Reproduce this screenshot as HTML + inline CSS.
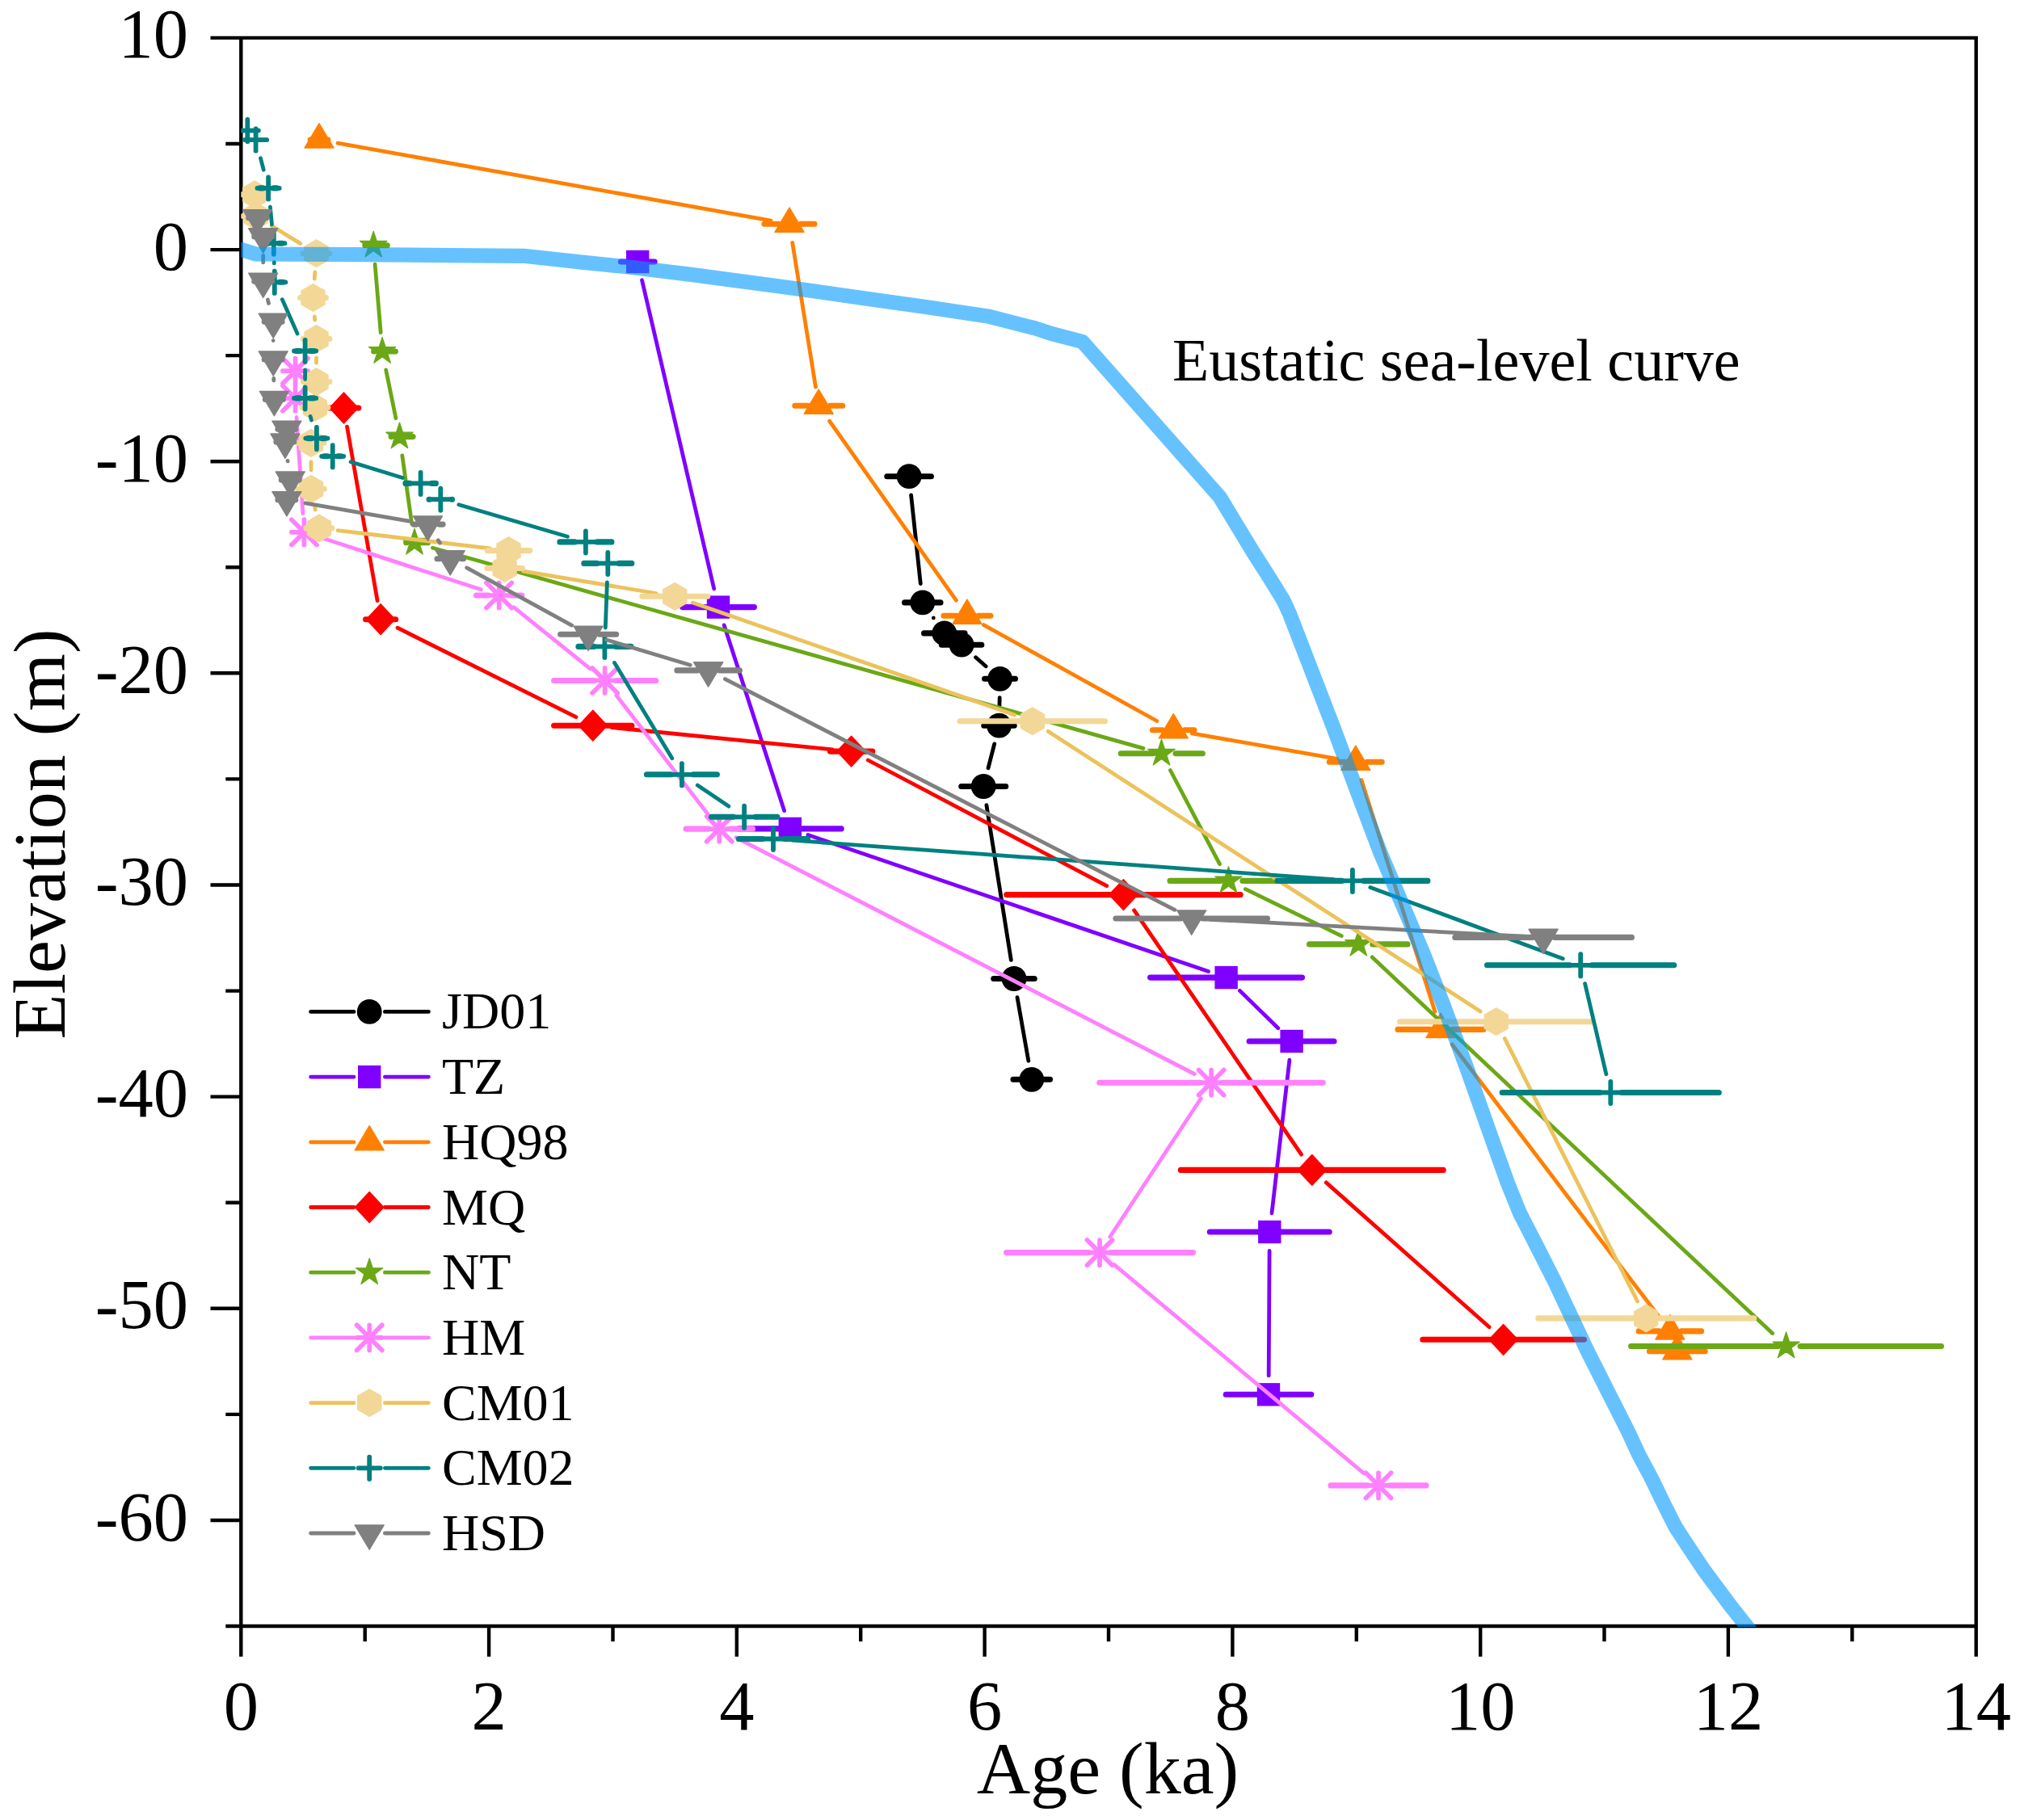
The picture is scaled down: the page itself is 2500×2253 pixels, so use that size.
<!DOCTYPE html>
<html lang="en"><head><meta charset="utf-8"><title>Elevation vs Age</title>
<style>html,body{margin:0;padding:0;background:#fff}svg{display:block}text{font-family:"Liberation Serif","Times New Roman",serif;fill:#000}</style></head><body>
<svg width="2500" height="2253" viewBox="0 0 2500 2253">
<defs><clipPath id="plotclip"><rect x="298.3" y="46.9" width="2148.4" height="1967.1"/></clipPath></defs>
<rect width="2500" height="2253" fill="#fff"/>
<path d="M298.3 46.9H2445.7V2013H298.3ZM298.3 46.9H260.5M298.3 178H279.3M298.3 309.1H260.5M298.3 440.1H279.3M298.3 571.2H260.5M298.3 702.3H279.3M298.3 833.3H260.5M298.3 964.4H279.3M298.3 1095.5H260.5M298.3 1226.6H279.3M298.3 1357.6H260.5M298.3 1488.7H279.3M298.3 1619.8H260.5M298.3 1750.9H279.3M298.3 1882H260.5M298.3 2013H279.3M298.3 2013V2050.8M451.7 2013V2032M605.1 2013V2050.8M758.5 2013V2032M911.8 2013V2050.8M1065.2 2013V2032M1218.6 2013V2050.8M1372 2013V2032M1525.4 2013V2050.8M1678.8 2013V2032M1832.2 2013V2050.8M1985.5 2013V2032M2138.9 2013V2050.8M2292.3 2013V2032M2445.7 2013V2050.8" stroke="#000" stroke-width="4.4" fill="none" stroke-linecap="butt" stroke-linejoin="miter"/>
<g font-size="86.5" text-anchor="end">
<text x="233" y="71.4">10</text>
<text x="233" y="333.6">0</text>
<text x="233" y="595.7">-10</text>
<text x="233" y="857.8">-20</text>
<text x="233" y="1120">-30</text>
<text x="233" y="1382.1">-40</text>
<text x="233" y="1644.3">-50</text>
<text x="233" y="1906.5">-60</text>
</g>
<g font-size="86.5" text-anchor="middle">
<text x="298.3" y="2141">0</text>
<text x="605.1" y="2141">2</text>
<text x="911.8" y="2141">4</text>
<text x="1218.6" y="2141">6</text>
<text x="1525.4" y="2141">8</text>
<text x="1832.2" y="2141">10</text>
<text x="2138.9" y="2141">12</text>
<text x="2445.7" y="2141">14</text>
</g>
<text font-size="92" text-anchor="middle" x="1371" y="2219.5">Age (ka)</text>
<text font-size="92" text-anchor="middle" transform="translate(79.5 1032.5) rotate(-90)">Elevation (m)</text>
<!-- JD01 -->
<g clip-path="url(#plotclip)">
<path d="M1127.6 613L1139.3 722.6M1155.3 764.9l0.01 0M1207.6 813.7L1220.1 824.8M1237.2 863.7L1236.9 874.8M1230.7 920.9L1223 950.8M1220.9 996.6L1251.3 1188.4M1259 1234.6L1272.8 1313.2" stroke="#000000" stroke-width="4.8" stroke-linecap="round" fill="none"/>
<path d="M1097.8 589.7H1111.6M1139.1 589.7H1152.4M1119.6 745.9H1128.3M1155.8 745.9H1164M1143.6 783.9H1155.3M1182.8 783.9H1194M1165.4 798.2H1176.6M1204.1 798.2H1214.8M1218.6 840.3H1224.1M1251.6 840.3H1256.5M1217.8 898.2H1223M1250.5 898.2H1255.2M1189.8 973.5H1203.7M1231.2 973.5H1244.7M1229.8 1211.5H1241.5M1269 1211.5H1280.2M1254 1336.3H1263.3M1290.8 1336.3H1299.5" stroke="#000000" stroke-width="7.1" stroke-linecap="round" fill="none"/>
<circle cx="1125.1" cy="589.7" r="15.4" fill="#000000"/>
<circle cx="1141.8" cy="745.9" r="15.4" fill="#000000"/>
<circle cx="1168.8" cy="783.9" r="15.4" fill="#000000"/>
<circle cx="1190.1" cy="798.2" r="15.4" fill="#000000"/>
<circle cx="1237.6" cy="840.3" r="15.4" fill="#000000"/>
<circle cx="1236.5" cy="898.2" r="15.4" fill="#000000"/>
<circle cx="1217.2" cy="973.5" r="15.4" fill="#000000"/>
<circle cx="1255" cy="1211.5" r="15.4" fill="#000000"/>
<circle cx="1276.8" cy="1336.3" r="15.4" fill="#000000"/>
</g>
<!-- TZ -->
<g clip-path="url(#plotclip)">
<path d="M794.5 346.8L883.7 728.8M896.2 773.9L970.6 1003.6M999.9 1033.5L1495.5 1202.5M1534.4 1226.4L1581.8 1272.7M1595.9 1312.2L1574 1501.8M1571.1 1548.4L1570.2 1702.9" stroke="#8000FF" stroke-width="4.8" stroke-linecap="round" fill="none"/>
<path d="M768.4 324H775.7M803.2 324H810.1M844.6 751.6H875.5M903 751.6H933.4M914.3 1025.9H964.3M991.8 1025.9H1041.2M1423.6 1210.1H1504.1M1531.6 1210.1H1611.5M1546.1 1289H1585.1M1612.6 1289H1651M1497.3 1525H1557.8M1585.3 1525H1645.2M1517.2 1726.3H1556.5M1584 1726.3H1622.8" stroke="#8000FF" stroke-width="7.1" stroke-linecap="round" fill="none"/>
<rect x="775" y="309.8" width="28.4" height="28.4" fill="#8000FF"/>
<rect x="874.8" y="737.4" width="28.4" height="28.4" fill="#8000FF"/>
<rect x="963.6" y="1011.7" width="28.4" height="28.4" fill="#8000FF"/>
<rect x="1503.4" y="1195.9" width="28.4" height="28.4" fill="#8000FF"/>
<rect x="1584.4" y="1274.8" width="28.4" height="28.4" fill="#8000FF"/>
<rect x="1557.1" y="1510.8" width="28.4" height="28.4" fill="#8000FF"/>
<rect x="1555.8" y="1712.1" width="28.4" height="28.4" fill="#8000FF"/>
</g>
<!-- HQ98 -->
<g clip-path="url(#plotclip)">
<path d="M418 177.1L954 273.1M980.7 300.3L1009.5 479.1M1026.7 521.3L1183.4 743.2M1217.4 773.6L1431.8 892.5M1475.3 907.8L1654.8 939.3M1684.9 965.6L1775.9 1252.1M1797.2 1293L2052.7 1629.3" stroke="#FF8000" stroke-width="4.8" stroke-linecap="round" fill="none"/>
<path d="M384.1 173H388.5M401.5 173H405.9M946 277.2H963.5M991 277.2H1008M983.8 502.2H999.7M1027.2 502.2H1042.7M1168 762.3H1183.4M1210.9 762.3H1225.9M1426.5 903.8H1438.8M1466.3 903.8H1478M1645.3 943.3H1664.3M1691.8 943.3H1710.2M1730 1274.4H1769.5M1797 1274.4H1836M2028.2 1647.9H2053.4M2080.9 1647.9H2105.6M2041.4 1672.8H2062.3M2089.8 1672.8H2110.2" stroke="#FF8000" stroke-width="7.1" stroke-linecap="round" fill="none"/>
<polygon points="395,152.8 377,183.1 413,183.1" fill="#FF8000" stroke="#FF8000" stroke-width="1.4" stroke-linejoin="round"/>
<polygon points="977,257 959,287.3 995,287.3" fill="#FF8000" stroke="#FF8000" stroke-width="1.4" stroke-linejoin="round"/>
<polygon points="1013.2,482 995.2,512.3 1031.2,512.3" fill="#FF8000" stroke="#FF8000" stroke-width="1.4" stroke-linejoin="round"/>
<polygon points="1196.9,742.1 1178.9,772.4 1214.9,772.4" fill="#FF8000" stroke="#FF8000" stroke-width="1.4" stroke-linejoin="round"/>
<polygon points="1452.3,883.6 1434.3,913.9 1470.3,913.9" fill="#FF8000" stroke="#FF8000" stroke-width="1.4" stroke-linejoin="round"/>
<polygon points="1677.8,923.1 1659.8,953.4 1695.8,953.4" fill="#FF8000" stroke="#FF8000" stroke-width="1.4" stroke-linejoin="round"/>
<polygon points="1783,1254.2 1765,1284.5 1801,1284.5" fill="#FF8000" stroke="#FF8000" stroke-width="1.4" stroke-linejoin="round"/>
<polygon points="2066.9,1627.7 2048.9,1658 2084.9,1658" fill="#FF8000" stroke="#FF8000" stroke-width="1.4" stroke-linejoin="round"/>
<polygon points="2075.8,1652.6 2057.8,1682.9 2093.8,1682.9" fill="#FF8000" stroke="#FF8000" stroke-width="1.4" stroke-linejoin="round"/>
</g>
<!-- MQ -->
<g clip-path="url(#plotclip)">
<path d="M429.5 528.1L467.1 743.6M492 777.2L712.9 887.7M757.1 900.5L1030.3 927.8M1074.3 941L1369.7 1096.7M1403.6 1126.9L1610.6 1429.1M1641.3 1463.9L1843.1 1642.8" stroke="#FF0000" stroke-width="4.8" stroke-linecap="round" fill="none"/>
<path d="M407.2 505H412M439.5 505H443.8M452.6 766.7H457.6M485.1 766.7H489.7M685.6 898.2H720.3M747.8 898.2H781.9M1027.4 930.1H1040.1M1067.6 930.1H1079.8M1245.7 1107.6H1376.9M1404.4 1107.6H1535.2M1461.3 1448.4H1610.3M1637.8 1448.4H1786.2M1760.8 1658.3H1847.1M1874.6 1658.3H1960.4" stroke="#FF0000" stroke-width="7.1" stroke-linecap="round" fill="none"/>
<polygon points="425.5,486.1 443.2,505 425.5,523.9 407.8,505" fill="#FF0000" stroke="#FF0000" stroke-width="1.4" stroke-linejoin="round"/>
<polygon points="471.1,747.8 488.8,766.7 471.1,785.6 453.4,766.7" fill="#FF0000" stroke="#FF0000" stroke-width="1.4" stroke-linejoin="round"/>
<polygon points="733.8,879.3 751.5,898.2 733.8,917.1 716.1,898.2" fill="#FF0000" stroke="#FF0000" stroke-width="1.4" stroke-linejoin="round"/>
<polygon points="1053.6,911.2 1071.3,930.1 1053.6,949 1035.9,930.1" fill="#FF0000" stroke="#FF0000" stroke-width="1.4" stroke-linejoin="round"/>
<polygon points="1390.4,1088.7 1408.1,1107.6 1390.4,1126.5 1372.7,1107.6" fill="#FF0000" stroke="#FF0000" stroke-width="1.4" stroke-linejoin="round"/>
<polygon points="1623.8,1429.5 1641.5,1448.4 1623.8,1467.3 1606.1,1448.4" fill="#FF0000" stroke="#FF0000" stroke-width="1.4" stroke-linejoin="round"/>
<polygon points="1860.6,1639.4 1878.3,1658.3 1860.6,1677.2 1842.9,1658.3" fill="#FF0000" stroke="#FF0000" stroke-width="1.4" stroke-linejoin="round"/>
</g>
<!-- NT -->
<g clip-path="url(#plotclip)">
<path d="M464.1 327.1L471.2 411.7M477.7 457.9L489.9 517.7M497.8 563.8L509.7 648.6M535.5 678.2L1415 926.4M1448.4 953.5L1509.5 1069.7M1541.4 1100.7L1660.3 1158.6M1698.3 1184.9L2193.6 1650.5" stroke="#6AA816" stroke-width="4.8" stroke-linecap="round" fill="none"/>
<path d="M451.8 303.8H452.2M468.7 303.8H479.3M462.7 435H463.1M479.6 435H489.4M484.1 540.6H484.5M501 540.6H511.1M502.6 671.8H503M519.5 671.8H529.5M1387.3 932.8H1427.5M1455 932.8H1488.3M1448 1090.4H1510.4M1537.9 1090.4H1592.9M1620.6 1168.9H1671.3M1698.8 1168.9H1742M2018.6 1666.5H2200.6M2228.1 1666.5H2402.5" stroke="#6AA816" stroke-width="7.1" stroke-linecap="round" fill="none"/>
<polygon points="462.2,286.2 466.2,298.4 478.9,298.4 468.6,305.9 472.5,318 462.2,310.5 451.9,318 455.8,305.9 445.5,298.4 458.2,298.4" fill="#6AA816" stroke="#6AA816" stroke-width="1.2" stroke-linejoin="round"/>
<polygon points="473.1,417.4 477.1,429.6 489.8,429.6 479.5,437.1 483.4,449.2 473.1,441.7 462.8,449.2 466.7,437.1 456.4,429.6 469.1,429.6" fill="#6AA816" stroke="#6AA816" stroke-width="1.2" stroke-linejoin="round"/>
<polygon points="494.5,523 498.5,535.2 511.2,535.2 500.9,542.7 504.8,554.8 494.5,547.3 484.2,554.8 488.1,542.7 477.8,535.2 490.5,535.2" fill="#6AA816" stroke="#6AA816" stroke-width="1.2" stroke-linejoin="round"/>
<polygon points="513,654.2 517,666.4 529.7,666.4 519.4,673.9 523.3,686 513,678.5 502.7,686 506.6,673.9 496.3,666.4 509,666.4" fill="#6AA816" stroke="#6AA816" stroke-width="1.2" stroke-linejoin="round"/>
<polygon points="1437.5,915.2 1441.5,927.4 1454.2,927.4 1443.9,934.9 1447.8,947 1437.5,939.5 1427.2,947 1431.1,934.9 1420.8,927.4 1433.5,927.4" fill="#6AA816" stroke="#6AA816" stroke-width="1.2" stroke-linejoin="round"/>
<polygon points="1520.4,1072.8 1524.4,1085 1537.1,1085 1526.8,1092.5 1530.7,1104.6 1520.4,1097.1 1510.1,1104.6 1514,1092.5 1503.7,1085 1516.4,1085" fill="#6AA816" stroke="#6AA816" stroke-width="1.2" stroke-linejoin="round"/>
<polygon points="1681.3,1151.3 1685.3,1163.5 1698,1163.5 1687.7,1171 1691.6,1183.1 1681.3,1175.6 1671,1183.1 1674.9,1171 1664.6,1163.5 1677.3,1163.5" fill="#6AA816" stroke="#6AA816" stroke-width="1.2" stroke-linejoin="round"/>
<polygon points="2210.6,1648.9 2214.6,1661.1 2227.3,1661.1 2217,1668.6 2220.9,1680.7 2210.6,1673.2 2200.3,1680.7 2204.2,1668.6 2193.9,1661.1 2206.6,1661.1" fill="#6AA816" stroke="#6AA816" stroke-width="1.2" stroke-linejoin="round"/>
</g>
<!-- HM -->
<g clip-path="url(#plotclip)">
<path d="M367 516.4L374.9 635.5M398.7 666L595.3 729.8M635.8 751.7L730.4 827.8M762.9 861L875.9 1007.6M911 1036.8L1478.3 1329.5M1486.3 1359.8L1373.8 1531M1379 1565.6L1688 1823.9" stroke="#FF80FF" stroke-width="4.8" stroke-linecap="round" fill="none"/>
<path d="M589.5 737H604.1M631.6 737H645.8M685.6 842.5H735.1M762.6 842.5H811.6M849 1026.1H876.7M904.2 1026.1H931.5M1360.8 1340.2H1485.6M1513.1 1340.2H1637.3M1245.5 1550.6H1347.5M1375 1550.6H1476.5M1647 1838.9H1692.5M1720 1838.9H1765" stroke="#FF80FF" stroke-width="7.1" stroke-linecap="round" fill="none"/>
<path d="M349.9 459.2H381.1M365.5 443.6V474.8M349.9 443.6L381.1 474.8M349.9 474.8L381.1 443.6" stroke="#FF80FF" stroke-width="5.7" stroke-linecap="round" fill="none"/>
<path d="M349.9 493.1H381.1M365.5 477.5V508.7M349.9 477.5L381.1 508.7M349.9 508.7L381.1 477.5" stroke="#FF80FF" stroke-width="5.7" stroke-linecap="round" fill="none"/>
<path d="M360.8 658.8H392M376.4 643.2V674.4M360.8 643.2L392 674.4M360.8 674.4L392 643.2" stroke="#FF80FF" stroke-width="5.7" stroke-linecap="round" fill="none"/>
<path d="M602 737H633.2M617.6 721.4V752.6M602 721.4L633.2 752.6M602 752.6L633.2 721.4" stroke="#FF80FF" stroke-width="5.7" stroke-linecap="round" fill="none"/>
<path d="M733 842.5H764.2M748.6 826.9V858.1M733 826.9L764.2 858.1M733 858.1L764.2 826.9" stroke="#FF80FF" stroke-width="5.7" stroke-linecap="round" fill="none"/>
<path d="M874.6 1026.1H905.8M890.2 1010.5V1041.7M874.6 1010.5L905.8 1041.7M874.6 1041.7L905.8 1010.5" stroke="#FF80FF" stroke-width="5.7" stroke-linecap="round" fill="none"/>
<path d="M1483.5 1340.2H1514.7M1499.1 1324.6V1355.8M1483.5 1324.6L1514.7 1355.8M1483.5 1355.8L1514.7 1324.6" stroke="#FF80FF" stroke-width="5.7" stroke-linecap="round" fill="none"/>
<path d="M1345.4 1550.6H1376.6M1361 1535V1566.2M1345.4 1535L1376.6 1566.2M1345.4 1566.2L1376.6 1535" stroke="#FF80FF" stroke-width="5.7" stroke-linecap="round" fill="none"/>
<path d="M1690.4 1838.9H1721.6M1706 1823.3V1854.5M1690.4 1823.3L1721.6 1854.5M1690.4 1854.5L1721.6 1823.3" stroke="#FF80FF" stroke-width="5.7" stroke-linecap="round" fill="none"/>
</g>
<!-- CM01 -->
<g clip-path="url(#plotclip)">
<path d="M336.5 279.8L371.6 301.4M389.8 337L389.2 345.2M389.3 391.8L389.7 396.1M391.5 442.8L391.5 449.2M385 571.9L385 581.9M389.7 628.2L390.2 631M418.1 656.6L606.3 678.9M647.7 707.2L812.1 734.5M857.3 746L1255.7 885M1297.4 905.4L1832.1 1252M1862.3 1285.6L2026.6 1611" stroke="#ECC25C" stroke-width="4.8" stroke-linecap="round" fill="none"/>
<path d="M299.2 240.8H301.7M329.2 240.8H331.1M300.7 267.5H303.1M330.6 267.5H332.6M375.2 313.7H378M405.5 313.7H407.8M371.6 368.5H374M401.5 368.5H403.4M375.2 419.4H378M405.5 419.4H407.8M375.2 472.6H378M405.5 472.6H407.8M373.9 504.4H376.4M403.9 504.4H405.8M369.1 548.5H371.5M399 548.5H400.9M368.8 605.3H371.5M399 605.3H401.2M378.9 653.9H381.4M408.9 653.9H410.8M603.4 681.6H616M643.5 681.6H655.6M603 703.4H611.1M638.6 703.4H646.2M794.8 738.3H821.7M849.2 738.3H875.7M1188 892.7H1264.3M1291.8 892.7H1367.6M1732.5 1264.7H1838.2M1865.7 1264.7H1971M1903.8 1631.9H2023.7M2051.2 1631.9H2170.7" stroke="#F3D796" stroke-width="7.1" stroke-linecap="round" fill="none"/>
<polygon points="315.2,224 329.7,232.4 329.7,249.2 315.2,257.6 300.7,249.2 300.7,232.4" fill="#F3D796" stroke="#F3D796" stroke-width="1.4" stroke-linejoin="round"/>
<polygon points="316.6,250.7 331.1,259.1 331.1,275.9 316.6,284.3 302.1,275.9 302.1,259.1" fill="#F3D796" stroke="#F3D796" stroke-width="1.4" stroke-linejoin="round"/>
<polygon points="391.5,296.9 406,305.3 406,322.1 391.5,330.5 377,322.1 377,305.3" fill="#F3D796" stroke="#F3D796" stroke-width="1.4" stroke-linejoin="round"/>
<polygon points="387.5,351.7 402,360.1 402,376.9 387.5,385.3 373,376.9 373,360.1" fill="#F3D796" stroke="#F3D796" stroke-width="1.4" stroke-linejoin="round"/>
<polygon points="391.5,402.6 406,411 406,427.8 391.5,436.2 377,427.8 377,411" fill="#F3D796" stroke="#F3D796" stroke-width="1.4" stroke-linejoin="round"/>
<polygon points="391.5,455.8 406,464.2 406,481 391.5,489.4 377,481 377,464.2" fill="#F3D796" stroke="#F3D796" stroke-width="1.4" stroke-linejoin="round"/>
<polygon points="389.9,487.6 404.4,496 404.4,512.8 389.9,521.2 375.4,512.8 375.4,496" fill="#F3D796" stroke="#F3D796" stroke-width="1.4" stroke-linejoin="round"/>
<polygon points="385,531.7 399.5,540.1 399.5,556.9 385,565.3 370.5,556.9 370.5,540.1" fill="#F3D796" stroke="#F3D796" stroke-width="1.4" stroke-linejoin="round"/>
<polygon points="385,588.5 399.5,596.9 399.5,613.7 385,622.1 370.5,613.7 370.5,596.9" fill="#F3D796" stroke="#F3D796" stroke-width="1.4" stroke-linejoin="round"/>
<polygon points="394.9,637.1 409.4,645.5 409.4,662.3 394.9,670.7 380.4,662.3 380.4,645.5" fill="#F3D796" stroke="#F3D796" stroke-width="1.4" stroke-linejoin="round"/>
<polygon points="629.5,664.8 644,673.2 644,690 629.5,698.4 615,690 615,673.2" fill="#F3D796" stroke="#F3D796" stroke-width="1.4" stroke-linejoin="round"/>
<polygon points="624.6,686.6 639.1,695 639.1,711.8 624.6,720.2 610.1,711.8 610.1,695" fill="#F3D796" stroke="#F3D796" stroke-width="1.4" stroke-linejoin="round"/>
<polygon points="835.2,721.5 849.7,729.9 849.7,746.7 835.2,755.1 820.7,746.7 820.7,729.9" fill="#F3D796" stroke="#F3D796" stroke-width="1.4" stroke-linejoin="round"/>
<polygon points="1277.8,875.9 1292.3,884.3 1292.3,901.1 1277.8,909.5 1263.3,901.1 1263.3,884.3" fill="#F3D796" stroke="#F3D796" stroke-width="1.4" stroke-linejoin="round"/>
<polygon points="1851.7,1247.9 1866.2,1256.3 1866.2,1273.1 1851.7,1281.5 1837.2,1273.1 1837.2,1256.3" fill="#F3D796" stroke="#F3D796" stroke-width="1.4" stroke-linejoin="round"/>
<polygon points="2037.2,1615.1 2051.7,1623.5 2051.7,1640.3 2037.2,1648.7 2022.7,1640.3 2022.7,1623.5" fill="#F3D796" stroke="#F3D796" stroke-width="1.4" stroke-linejoin="round"/>
</g>
<!-- CM02 -->
<g clip-path="url(#plotclip)">
<path d="M322.5 195.8L326.2 210.2M334.4 256.2L336.5 277.9M339.3 324.6L339.3 325.9M349.3 370.7L368.1 413.1M377.6 457.9L377.6 469.5M384.1 515.4L385.4 520.1M434.1 571.7L498.2 591.5M567.8 624.8L702.4 664.3M751.4 720.8L749.3 777M760.5 820.4L831.8 938.8M863.2 972L901.8 998.1M980.3 1040.2L1650.6 1088.7M1695.8 1098.5L1934.3 1186.7M1961.6 1217.6L1987.9 1329.7" stroke="#008080" stroke-width="4.8" stroke-linecap="round" fill="none"/>
<path d="M321.7 232.9H325.6M338.6 232.9H342.6M328.4 301.2H332.3M345.3 301.2H349.2M329.4 349.3H333.3M346.3 349.3H350.2M367.2 434.5H371.1M384.1 434.5H388.1M367.2 492.9H371.1M384.1 492.9H388.1M381.4 542.6H385.4M398.4 542.6H402.3M401.2 564.8H405.2M418.2 564.8H422.1M501.9 598.4H507.1M534.6 598.4H539.4M531 618.2H531.8M559.3 618.2H559.5M692.9 670.9H711.4M738.9 670.9H756.9M722.8 697.4H738.8M766.3 697.4H781.8M715.9 800.4H734.9M762.4 800.4H780.9M800.4 958.8H830.4M857.9 958.8H887.4M880.4 1011.3H907.6M935.1 1011.3H961.9M914.4 1038.5H943.5M971 1038.5H999.6M1581 1090.4H1660.4M1687.9 1090.4H1766.9M1840.5 1194.8H1942.7M1970.2 1194.8H2071.8M1859.2 1352.5H1979.8M2007.3 1352.5H2127.3" stroke="#008080" stroke-width="7.1" stroke-linecap="round" fill="none"/>
<path d="M292.7 161.6H319.9M306.3 148V175.2" stroke="#008080" stroke-width="5.8" stroke-linecap="round" fill="none"/>
<path d="M303 173.1H330.2M316.6 159.5V186.7" stroke="#008080" stroke-width="5.8" stroke-linecap="round" fill="none"/>
<path d="M318.5 232.9H345.7M332.1 219.3V246.5" stroke="#008080" stroke-width="5.8" stroke-linecap="round" fill="none"/>
<path d="M325.2 301.2H352.4M338.8 287.6V314.8" stroke="#008080" stroke-width="5.8" stroke-linecap="round" fill="none"/>
<path d="M326.2 349.3H353.4M339.8 335.7V362.9" stroke="#008080" stroke-width="5.8" stroke-linecap="round" fill="none"/>
<path d="M364 434.5H391.2M377.6 420.9V448.1" stroke="#008080" stroke-width="5.8" stroke-linecap="round" fill="none"/>
<path d="M364 492.9H391.2M377.6 479.3V506.5" stroke="#008080" stroke-width="5.8" stroke-linecap="round" fill="none"/>
<path d="M378.3 542.6H405.5M391.9 529V556.2" stroke="#008080" stroke-width="5.8" stroke-linecap="round" fill="none"/>
<path d="M398.1 564.8H425.3M411.7 551.2V578.4" stroke="#008080" stroke-width="5.8" stroke-linecap="round" fill="none"/>
<path d="M507 598.4H534.2M520.6 584.8V612" stroke="#008080" stroke-width="5.8" stroke-linecap="round" fill="none"/>
<path d="M531.7 618.2H558.9M545.3 604.6V631.8" stroke="#008080" stroke-width="5.8" stroke-linecap="round" fill="none"/>
<path d="M711.3 670.9H738.5M724.9 657.3V684.5" stroke="#008080" stroke-width="5.8" stroke-linecap="round" fill="none"/>
<path d="M738.7 697.4H765.9M752.3 683.8V711" stroke="#008080" stroke-width="5.8" stroke-linecap="round" fill="none"/>
<path d="M734.8 800.4H762M748.4 786.8V814" stroke="#008080" stroke-width="5.8" stroke-linecap="round" fill="none"/>
<path d="M830.3 958.8H857.5M843.9 945.2V972.4" stroke="#008080" stroke-width="5.8" stroke-linecap="round" fill="none"/>
<path d="M907.5 1011.3H934.7M921.1 997.7V1024.9" stroke="#008080" stroke-width="5.8" stroke-linecap="round" fill="none"/>
<path d="M943.4 1038.5H970.6M957 1024.9V1052.1" stroke="#008080" stroke-width="5.8" stroke-linecap="round" fill="none"/>
<path d="M1660.3 1090.4H1687.5M1673.9 1076.8V1104" stroke="#008080" stroke-width="5.8" stroke-linecap="round" fill="none"/>
<path d="M1942.6 1194.8H1969.8M1956.2 1181.2V1208.4" stroke="#008080" stroke-width="5.8" stroke-linecap="round" fill="none"/>
<path d="M1979.7 1352.5H2006.9M1993.3 1338.9V1366.1" stroke="#008080" stroke-width="5.8" stroke-linecap="round" fill="none"/>
</g>
<!-- HSD -->
<g clip-path="url(#plotclip)">
<path d="M325.7 316.3L325.7 324.9M331.4 371L332.5 375.5M338.2 421.6L338.2 421.6M338.8 468.4L338.8 471.1M356 570.3L356.1 570.9M378 622.8L506.4 645.1M542.3 668.7L544.4 672.1M577.7 702.9L707.6 774.1M750.5 792L854.2 823.2M897.4 840.6L1453.9 1126.3M1498.1 1138.3L1886.7 1159.1" stroke="#808080" stroke-width="4.8" stroke-linecap="round" fill="none"/>
<path d="M307.7 269.7H312.1M325.1 269.7H329.6M314.8 292.9H319.2M332.2 292.9H336.6M314.8 348.3H319.2M332.2 348.3H336.6M327.2 398.2H331.7M344.7 398.2H349.1M327.2 445H331.7M344.7 445H349.1M328.4 494.5H332.9M345.9 494.5H350.3M343.9 531.3H348.4M361.4 531.3H365.8M341.9 547.1H346.4M359.4 547.1H363.8M348.2 594.1H352.7M365.7 594.1H370.1M343.9 618.8H348.4M361.4 618.8H365.8M511.9 649.1H516M543.5 649.1H548.1M541 691.7H543.7M571.2 691.7H573.5M693.6 785.3H714.6M742.1 785.3H762.6M837.9 829.9H863.1M890.6 829.9H915.4M1380.9 1137H1461.2M1488.7 1137H1568.5M1800.8 1160.4H1896.6M1924.1 1160.4H2019.4" stroke="#808080" stroke-width="7.1" stroke-linecap="round" fill="none"/>
<polygon points="318.6,289.9 300.6,259.6 336.6,259.6" fill="#808080" stroke="#808080" stroke-width="1.4" stroke-linejoin="round"/>
<polygon points="325.7,313.1 307.7,282.8 343.7,282.8" fill="#808080" stroke="#808080" stroke-width="1.4" stroke-linejoin="round"/>
<polygon points="325.7,368.5 307.7,338.2 343.7,338.2" fill="#808080" stroke="#808080" stroke-width="1.4" stroke-linejoin="round"/>
<polygon points="338.2,418.4 320.2,388.1 356.2,388.1" fill="#808080" stroke="#808080" stroke-width="1.4" stroke-linejoin="round"/>
<polygon points="338.2,465.2 320.2,434.9 356.2,434.9" fill="#808080" stroke="#808080" stroke-width="1.4" stroke-linejoin="round"/>
<polygon points="339.4,514.7 321.4,484.4 357.4,484.4" fill="#808080" stroke="#808080" stroke-width="1.4" stroke-linejoin="round"/>
<polygon points="354.9,551.5 336.9,521.2 372.9,521.2" fill="#808080" stroke="#808080" stroke-width="1.4" stroke-linejoin="round"/>
<polygon points="352.9,567.3 334.9,537 370.9,537" fill="#808080" stroke="#808080" stroke-width="1.4" stroke-linejoin="round"/>
<polygon points="359.2,614.3 341.2,584 377.2,584" fill="#808080" stroke="#808080" stroke-width="1.4" stroke-linejoin="round"/>
<polygon points="354.9,639 336.9,608.7 372.9,608.7" fill="#808080" stroke="#808080" stroke-width="1.4" stroke-linejoin="round"/>
<polygon points="529.5,669.3 511.5,639 547.5,639" fill="#808080" stroke="#808080" stroke-width="1.4" stroke-linejoin="round"/>
<polygon points="557.2,711.9 539.2,681.6 575.2,681.6" fill="#808080" stroke="#808080" stroke-width="1.4" stroke-linejoin="round"/>
<polygon points="728.1,805.5 710.1,775.2 746.1,775.2" fill="#808080" stroke="#808080" stroke-width="1.4" stroke-linejoin="round"/>
<polygon points="876.6,850.1 858.6,819.8 894.6,819.8" fill="#808080" stroke="#808080" stroke-width="1.4" stroke-linejoin="round"/>
<polygon points="1474.7,1157.2 1456.7,1126.9 1492.7,1126.9" fill="#808080" stroke="#808080" stroke-width="1.4" stroke-linejoin="round"/>
<polygon points="1910.1,1180.6 1892.1,1150.3 1928.1,1150.3" fill="#808080" stroke="#808080" stroke-width="1.4" stroke-linejoin="round"/>
</g>
<g clip-path="url(#plotclip)"><path d="M296 308.6L299.4 309.2L316.7 314.5L450.4 315.1L557.4 316.1L648.3 316.8L717.8 324.4L771.3 329.8L853.5 339.6L987.2 357.5L1067.4 369L1147.6 380.2L1222.5 391.4L1281.3 406.4L1300 412.6L1339.6 423L1509.6 615.2L1551.2 684L1568.9 711.7L1588.5 743.4L1595.8 759.2L1620.8 824L1650.1 900L1679.8 980L1708.1 1055L1728.9 1104L1761.5 1180L1786.1 1243.4L1816 1324L1842.9 1400L1865.5 1463.4L1880.8 1501.4L1902.7 1544L1924.5 1587.2L1964.8 1672.9L2015.2 1772.5L2027.9 1800L2044.8 1831.7L2060 1863.4L2074.1 1891.1L2087.1 1910.9L2109.1 1944L2143.5 1990.2L2161.5 2012.8L2180 2036" stroke="rgba(0,153,255,0.6)" stroke-width="18.2" fill="none" stroke-linejoin="round" stroke-linecap="butt"/></g>
<text font-size="74" x="1451" y="470.5">Eustatic sea-level curve</text>
<g>
<path d="M384.6 1252.4H438M476.4 1252.4H530.4" stroke="#000000" stroke-width="4.8" stroke-linecap="round" fill="none"/>
<circle cx="457.2" cy="1252.4" r="15.4" fill="#000000"/>
<text font-size="64" x="547" y="1273.4">JD01</text>
<path d="M384.6 1333.1H438M476.4 1333.1H530.4" stroke="#8000FF" stroke-width="4.8" stroke-linecap="round" fill="none"/>
<rect x="443" y="1318.9" width="28.4" height="28.4" fill="#8000FF"/>
<text font-size="64" x="547" y="1354.1">TZ</text>
<path d="M384.6 1413.8H438M476.4 1413.8H530.4" stroke="#FF8000" stroke-width="4.8" stroke-linecap="round" fill="none"/>
<polygon points="457.2,1393.6 439.2,1423.9 475.2,1423.9" fill="#FF8000" stroke="#FF8000" stroke-width="1.4" stroke-linejoin="round"/>
<text font-size="64" x="547" y="1434.8">HQ98</text>
<path d="M384.6 1494.5H438M476.4 1494.5H530.4" stroke="#FF0000" stroke-width="4.8" stroke-linecap="round" fill="none"/>
<polygon points="457.2,1475.6 474.9,1494.5 457.2,1513.4 439.5,1494.5" fill="#FF0000" stroke="#FF0000" stroke-width="1.4" stroke-linejoin="round"/>
<text font-size="64" x="547" y="1515.5">MQ</text>
<path d="M384.6 1575.2H438M476.4 1575.2H530.4" stroke="#6AA816" stroke-width="4.8" stroke-linecap="round" fill="none"/>
<polygon points="457.2,1557.6 461.2,1569.8 473.9,1569.8 463.6,1577.3 467.5,1589.4 457.2,1581.9 446.9,1589.4 450.8,1577.3 440.5,1569.8 453.2,1569.8" fill="#6AA816" stroke="#6AA816" stroke-width="1.2" stroke-linejoin="round"/>
<text font-size="64" x="547" y="1596.2">NT</text>
<path d="M384.6 1655.9H438M476.4 1655.9H530.4" stroke="#FF80FF" stroke-width="4.8" stroke-linecap="round" fill="none"/>
<path d="M441.6 1655.9H472.8M457.2 1640.3V1671.5M441.6 1640.3L472.8 1671.5M441.6 1671.5L472.8 1640.3" stroke="#FF80FF" stroke-width="5.7" stroke-linecap="round" fill="none"/>
<text font-size="64" x="547" y="1676.9">HM</text>
<path d="M384.6 1736.6H438M476.4 1736.6H530.4" stroke="#ECC25C" stroke-width="4.8" stroke-linecap="round" fill="none"/>
<polygon points="457.2,1719.8 471.7,1728.2 471.7,1745 457.2,1753.4 442.7,1745 442.7,1728.2" fill="#F3D796" stroke="#F3D796" stroke-width="1.4" stroke-linejoin="round"/>
<text font-size="64" x="547" y="1757.6">CM01</text>
<path d="M384.6 1817.3H438M476.4 1817.3H530.4" stroke="#008080" stroke-width="4.8" stroke-linecap="round" fill="none"/>
<path d="M443.6 1817.3H470.8M457.2 1803.7V1830.9" stroke="#008080" stroke-width="5.8" stroke-linecap="round" fill="none"/>
<text font-size="64" x="547" y="1838.3">CM02</text>
<path d="M384.6 1898H438M476.4 1898H530.4" stroke="#808080" stroke-width="4.8" stroke-linecap="round" fill="none"/>
<polygon points="457.2,1918.2 439.2,1887.9 475.2,1887.9" fill="#808080" stroke="#808080" stroke-width="1.4" stroke-linejoin="round"/>
<text font-size="64" x="547" y="1919">HSD</text>
</g>
</svg></body></html>
